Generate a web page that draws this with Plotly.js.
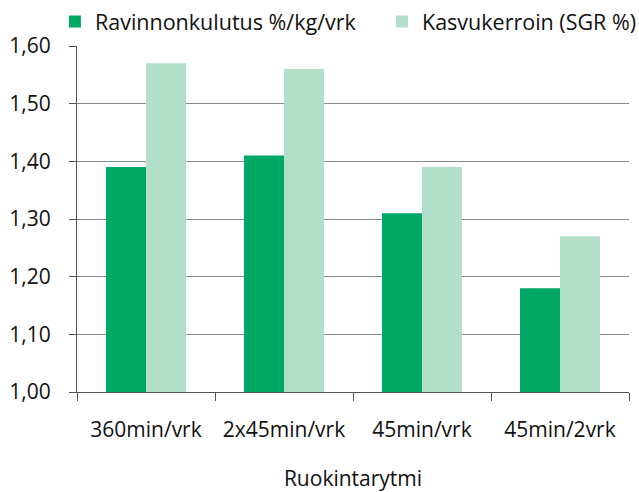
<!DOCTYPE html>
<html><head><meta charset="utf-8">
<script src="https://cdn.plot.ly/plotly-3.0.1.min.js"></script>
<style>html,body{margin:0;padding:0;background:#fff}</style>
</head><body>
<div id="chart" style="width:639px;height:492px"></div>
<script>
const categories = ["360min/vrk", "2x45min/vrk", "45min/vrk", "45min/2vrk"];
const ravinnonkulutus = [1.39, 1.41, 1.31, 1.18];
const kasvukerroin = [1.57, 1.56, 1.39, 1.27];
const seriesNames = ["Ravinnonkulutus %/kg/vrk", "Kasvukerroin (SGR %)"];
const yTicks = [1.0, 1.1, 1.2, 1.3, 1.4, 1.5, 1.6];

const font = "Open Sans, Noto Sans, DejaVu Sans, sans-serif";
const traces = [
  {type: "bar", x: categories, y: ravinnonkulutus, name: seriesNames[0], marker: {color: "#00a865"}, base: 0, legend: "legend"},
  {type: "bar", x: categories, y: kasvukerroin, name: seriesNames[1], marker: {color: "#b2dfca"}, base: 0, legend: "legend2"}
];
const legendCommon = {orientation: "h", xanchor: "left", y: 1.13, yanchor: "top",
  bgcolor: "rgba(0,0,0,0)", font: {size: 21.5, family: font}};
const layout = {
  width: 639, height: 492,
  margin: {l: 77, r: 10, t: 46, b: 100, autoexpand: false},
  paper_bgcolor: "#fff", plot_bgcolor: "#fff",
  separators: ",.",
  font: {family: font, size: 21, color: "#111"},
  barmode: "group", bargap: 0.42, bargroupgap: 0,
  showlegend: true,
  legend: Object.assign({x: -0.04}, legendCommon),
  legend2: Object.assign({x: 0.5525}, legendCommon),
  xaxis: {
    type: "category", showline: true, linecolor: "#555", linewidth: 1,
    ticks: "outside", ticklen: 8, tickcolor: "#555", tickson: "boundaries",
    ticklabelstandoff: 19, automargin: false,
    showgrid: false, title: {text: "Ruokintarytmi", font: {size: 21}, standoff: 31},
    tickfont: {size: 21}
  },
  yaxis: {
    range: [1.0, 1.6], tickvals: yTicks, tickformat: ".2f", automargin: false,
    showline: true, linecolor: "#555", linewidth: 1,
    ticks: "outside", ticklen: 7, tickcolor: "#555", ticklabelstandoff: 14,
    showgrid: true, gridcolor: "#888", gridwidth: 1, zeroline: false,
    tickfont: {size: 21}
  }
};
Plotly.newPlot("chart", traces, layout, {displayModeBar: false, staticPlot: true});
</script>
</body></html>
